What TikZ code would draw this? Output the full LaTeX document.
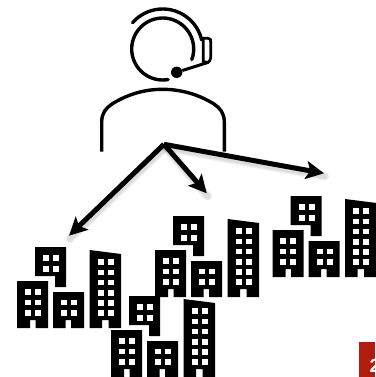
\documentclass[tikz,border=0pt]{standalone}
\usepackage{fontspec}
\setsansfont{Liberation Sans}
\usepackage{xcolor}
\usetikzlibrary{arrows.meta,positioning}
\definecolor{Slide}{HTML}{B01C0E}
\tikzset{
  icon/.style={draw=black,line width=3.4pt,line cap=round},
  block/.style={fill=black},
  pane/.style={fill=white},
  reach/.style={-{Stealth[length=18pt,width=18pt,inset=4pt]},line width=5pt,black},
  haze/.style={line width=#1,gray,opacity=.1,line cap=round},
  pics/cluster/.style={code={
    % small block with the notch, low block, middle block, tower
    \path[block] (18,0)--(49,0)--(49,40)--(38,40)--(38,29)--(18,29)--cycle;
    \foreach \x in {26,36} \foreach \y in {8,19} \path[pane] (\x,\y) rectangle ++(6,5.5);
    \path[block] (0,34)--(31,34)--(31,81)--(18.5,81)--(18.5,73)--(13,73)--(13,81)--(0,81)--cycle;
    \foreach \x in {7.5,17.5} \foreach \y in {42,52.5,63} \path[pane] (\x,\y) rectangle ++(6,5.5);
    \path[block] (36,45)--(67,45)--(67,81)--(54,81)--(54,73)--(48.5,73)--(48.5,81)--(36,81)--cycle;
    \foreach \x in {44,54} \foreach \y in {52.5,63} \path[pane] (\x,\y) rectangle ++(6,5.5);
    \path[block] (72.5,3)--(104,7)--(104,81)--(91.5,81)--(91.5,73)--(85,73)--(85,81)--(72.5,81)--cycle;
    \foreach \x in {80.5,90.5} \foreach \y in {12,22.5,32.5,43,53,63} \path[pane] (\x,\y) rectangle ++(6,5.5);
  }}
}
\begin{document}
\begin{tikzpicture}[x=1pt,y=-1pt]
  \useasboundingbox (0,0) rectangle (375,377);
  % agent
  \coordinate (head) at (162.7,49);
  \coordinate (boom) at (208.3,62.3);
  \draw[icon] ([shift={(280:31pt)}]head) arc[start angle=280,end angle=-20,radius=31pt];
  \draw[icon] ([shift={(139:40pt)}]head) arc[start angle=139,end angle=13,radius=40pt];
  \draw[line width=2.8pt,line join=round] (203.3,38.3)--(208,38.3)..controls (210.7,38.3) and (210.7,40) .. (210.7,42)--(210.7,58)..controls (210.7,60.5) and (209,61) .. (boom)--(203.3,62)--cycle;
  \node[circle,fill=black,inner sep=0pt,minimum size=11.4pt] (mic) at (176.7,72.3) {};
  \draw[line width=3pt] (mic)--(boom);
  \draw[icon,line cap=butt] (101.7,151.7)--(101.7,122)..controls (101.7,113) and (106,108) .. (112,104)..controls (128,94) and (145,89.3) .. (162.5,89.3)..controls (180,89.3) and (198,94) .. (214,104)..controls (220,108) and (224.3,113) .. (224.3,122)--(224.3,151.7);
  % arrows
  \coordinate (hub) at (164,144.3);
  \coordinate (west) at (69,235.7);
  \coordinate (south) at (206.7,193.3);
  \coordinate (east) at (324,173.3);
  \foreach \t in {west,south,east}{
    \foreach \w in {9pt,7pt,5pt}
      \draw[haze=\w] ([shift={(1,3)}]hub)--([shift={(1,3)}]\t);
  }
  \foreach \t in {west,south,east} \draw[reach] (hub)--(\t);
  % buildings
  \pic at (17,247) {cluster};
  \pic at (272.5,196) {cluster};
  \pic at (155,216) {cluster};
  \pic at (111,296) {cluster};
  % page number
  \fill[Slide] (359,342) rectangle (375,377);
  \begin{scope}
    \clip (359,342) rectangle (375,377);
    \node[anchor=base west,inner sep=0pt,text=white,font=\sffamily\bfseries\fontsize{19}{19}\selectfont] (page) at (369.5,372) {2};
  \end{scope}
\end{tikzpicture}
\end{document}
